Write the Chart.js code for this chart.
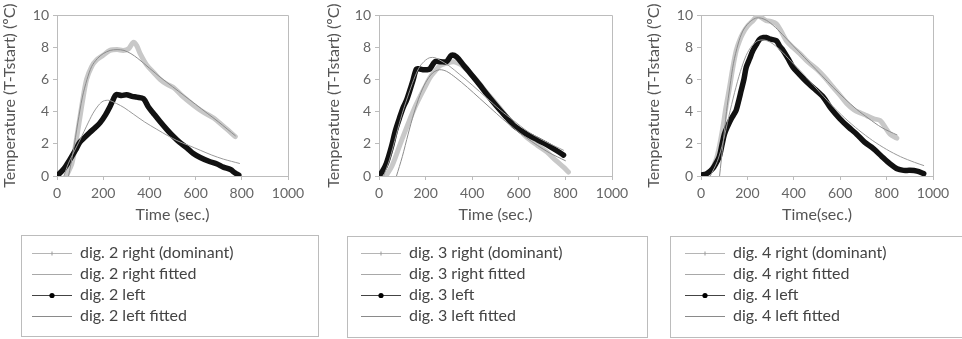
<!DOCTYPE html>
<html lang="en">
<head>
<meta charset="UTF-8">
<title>Finger temperature</title>
<script src="https://cdn.jsdelivr.net/npm/chart.js@4.4.1/dist/chart.umd.min.js"></script>
<style>
  body { margin: 0; background: #fff; }
  #wrap { position: relative; width: 962px; height: 339px; overflow: hidden; }
  canvas { position: absolute; top: 0; }
</style>
</head>
<body>
<div id="wrap">
  <canvas id="c2" width="320" height="339" style="left:0"></canvas>
  <canvas id="c3" width="330" height="339" style="left:320px"></canvas>
  <canvas id="c4" width="322" height="339" style="left:640px"></canvas>
</div>
<script>
// [time (s), T - Tstart (ºC)]
const dig2Right = [[40,0],[65,0.8],[91,2.9],[110,4.6],[128,6.0],[150,6.8],[171,7.2],[200,7.5],[229,7.8],[260,7.85],[287,7.8],[310,7.9],[330,8.3],[345,8.1],[360,7.6],[388,6.9],[420,6.4],[446,6.0],[475,5.7],[504,5.5],[540,5.0],[591,4.4],[630,4.0],[678,3.6],[720,3.1],[772,2.45]];
const dig2RightFit = [[50,0],[70,1.5],[90,3.3],[110,4.9],[130,6.0],[150,6.8],[175,7.3],[200,7.6],[230,7.8],[260,7.85],[290,7.8],[320,7.6],[350,7.3],[400,6.7],[450,6.1],[500,5.55],[550,5.0],[600,4.45],[650,3.9],[700,3.35],[772,2.5]];
const dig2Left = [[0,0],[30,0.45],[55,1.0],[80,1.6],[99,2.1],[120,2.4],[142,2.7],[165,3.0],[186,3.3],[210,3.8],[229,4.3],[245,4.8],[255,5.05],[280,5.0],[301,5.05],[325,4.95],[345,4.9],[374,4.8],[395,4.3],[417,3.9],[445,3.4],[475,2.9],[504,2.45],[530,2.1],[562,1.75],[590,1.4],[620,1.15],[660,0.9],[693,0.75],[720,0.55],[751,0.4],[770,0.2],[787,0.05]];
const dig2LeftFit = [[30,0],[50,0.8],[84,1.8],[105,2.4],[128,3.1],[156,3.9],[180,4.4],[200,4.65],[225,4.7],[258,4.5],[290,4.25],[330,3.85],[380,3.35],[432,2.9],[480,2.5],[519,2.2],[570,1.9],[620,1.6],[670,1.3],[720,1.05],[790,0.78]];

const dig3Right = [[30,0],[55,0.6],[89,1.9],[110,2.7],[132,3.5],[155,4.3],[175,4.9],[200,5.6],[218,6.1],[240,6.5],[261,6.85],[290,7.0],[319,7.1],[340,7.0],[362,6.8],[390,6.4],[419,5.95],[455,5.3],[491,4.7],[525,4.1],[562,3.45],[600,2.9],[634,2.4],[680,1.9],[720,1.5],[760,0.95],[792,0.55],[813,0.25]];
const dig3RightFit = [[75,0],[100,1.2],[125,2.6],[150,3.9],[175,5.0],[200,5.8],[230,6.4],[260,6.6],[290,6.5],[330,6.1],[380,5.5],[430,4.85],[480,4.2],[530,3.55],[580,2.95],[630,2.4],[680,1.9],[730,1.45],[800,0.95]];
const dig3Left = [[0,0],[15,0.3],[32,0.8],[53,1.8],[70,2.8],[89,3.65],[105,4.3],[118,4.7],[132,5.3],[146,5.95],[161,6.65],[175,6.65],[189,6.6],[205,6.6],[218,6.65],[240,7.1],[265,7.1],[290,7.1],[311,7.5],[333,7.4],[362,6.9],[385,6.5],[405,6.15],[430,5.7],[462,5.1],[490,4.6],[519,4.1],[550,3.6],[577,3.15],[605,2.85],[634,2.6],[680,2.25],[720,1.95],[760,1.6],[792,1.3]];
const dig3LeftFit = [[20,0],[45,1.0],[75,2.6],[100,3.9],[132,5.3],[155,6.2],[175,6.8],[200,7.2],[218,7.35],[240,7.35],[261,7.2],[300,6.85],[347,6.3],[400,5.65],[462,4.85],[520,4.1],[577,3.45],[640,2.75],[720,2.1],[792,1.6]];

const dig4Right = [[20,0],[45,0.4],[65,1.0],[80,1.9],[94,3.0],[108,4.3],[123,5.5],[138,6.8],[152,7.8],[166,8.4],[180,8.85],[200,9.3],[224,9.65],[245,9.95],[265,9.8],[281,9.65],[300,9.6],[325,9.45],[345,9.0],[368,8.4],[395,8.0],[426,7.6],[460,7.1],[498,6.65],[535,6.1],[570,5.5],[600,5.0],[628,4.5],[660,4.1],[690,3.9],[714,3.75],[745,3.55],[772,3.45],[795,3.0],[815,2.6],[844,2.35]];
const dig4RightFit = [[80,0],[95,2.0],[110,4.0],[125,5.6],[140,7.0],[160,8.2],[180,9.0],[205,9.5],[235,9.8],[260,9.8],[290,9.6],[330,9.1],[370,8.5],[420,7.75],[470,7.0],[520,6.25],[570,5.5],[620,4.8],[670,4.15],[720,3.6],[780,3.0],[845,2.55]];
const dig4Left = [[0,0.05],[25,0.15],[50,0.45],[65,0.8],[79,1.2],[90,1.9],[101,2.6],[115,3.1],[130,3.55],[145,3.9],[152,4.1],[163,4.7],[173,5.3],[185,6.0],[195,6.75],[210,7.3],[224,7.8],[240,8.2],[253,8.5],[270,8.6],[281,8.6],[300,8.5],[325,8.4],[340,8.05],[354,7.8],[375,7.3],[397,6.75],[425,6.3],[455,5.85],[490,5.4],[527,4.9],[560,4.2],[599,3.55],[635,3.05],[671,2.6],[705,2.1],[743,1.7],[780,1.2],[815,0.75],[845,0.45],[873,0.35],[900,0.35],[931,0.3],[960,0.15]];
const dig4LeftFit = [[40,0],[70,0.9],[95,2.1],[120,3.7],[145,5.2],[170,6.5],[195,7.5],[220,8.1],[245,8.4],[270,8.45],[300,8.3],[340,7.85],[390,7.1],[440,6.35],[500,5.4],[560,4.45],[620,3.6],[680,2.85],[740,2.2],[800,1.65],[860,1.2],[920,0.85],[960,0.65]];

const xTicks = [0, 200, 400, 600, 800, 1000];
const yTicks = [0, 2, 4, 6, 8, 10];
const yTitle = 'Temperature (T-Tstart) (ºC)';
const xTitles = ['Time (sec.)', 'Time (sec.)', 'Time(sec.)'];
const seriesNames = ['right (dominant)', 'right fitted', 'left', 'left fitted'];

const FONT = 'Lato, "Open Sans", sans-serif';
const AXIS_GREY = '#bcbcbc';

// legend sample images: a short line, with optional marker
function sample(color, marker) {
  const c = document.createElement('canvas');
  c.width = 40; c.height = 8;
  const g = c.getContext('2d');
  g.strokeStyle = color; g.lineWidth = 1;
  g.beginPath(); g.moveTo(0, 4.5); g.lineTo(40, 4.5); g.stroke();
  if (marker === 'dot') {
    g.fillStyle = '#000';
    g.beginPath(); g.arc(20, 4.5, 2.6, 0, Math.PI * 2); g.fill();
  } else if (marker === 'tick') {
    g.fillStyle = '#999';
    g.fillRect(19.5, 2.5, 1, 4);
  }
  return c;
}
const samples = [
  sample('#b5b5b5', 'tick'),
  sample('#a8a8a8'),
  sample('#444', 'dot'),
  sample('#8a8a8a')
];

const framePlugin = {
  id: 'frame',
  afterLayout(chart, args, opts) {
    const lg = chart.legend;
    const w = lg.right - lg.left;
    lg.left = opts.legendX;
    lg.right = opts.legendX + w;
  },
  beforeDatasetsDraw(chart) {
    const {ctx, chartArea: a} = chart;
    ctx.save();
    ctx.strokeStyle = AXIS_GREY;
    ctx.lineWidth = 1;
    ctx.beginPath();
    ctx.moveTo(Math.round(a.left) + 0.5, Math.round(a.top) + 0.5);
    ctx.lineTo(Math.round(a.right) + 0.5, Math.round(a.top) + 0.5);
    ctx.lineTo(Math.round(a.right) + 0.5, Math.round(a.bottom) + 0.5);
    ctx.stroke();
    ctx.restore();
  },
  afterDraw(chart, args, opts) {
    const ctx = chart.ctx;
    const b = opts.box;
    ctx.save();
    ctx.strokeStyle = AXIS_GREY;
    ctx.lineWidth = 1;
    ctx.strokeRect(b[0] + 0.5, b[1] + 0.5, b[2], b[3]);
    ctx.restore();
  }
};

function toXY(arr) {
  return arr.map(p => ({x: p[0], y: p[1]}));
}

function makePanel(id, dig, series, xTitle, lay) {
  const styles = [
    {borderColor: '#c8c8c8', borderWidth: 5, order: 3},
    {borderColor: '#8c8c8c', borderWidth: 1, order: 1},
    {borderColor: '#111111', borderWidth: 5.5, order: 2},
    {borderColor: '#9a9a9a', borderWidth: 1, order: 0}
  ];
  const datasets = series.map((s, i) => Object.assign({
    label: 'dig. ' + dig + ' ' + seriesNames[i],
    data: toXY(s),
    pointRadius: 0,
    tension: 0.3,
    borderJoinStyle: 'round',
    borderCapStyle: 'round',
    fill: false
  }, styles[i]));

  return new Chart(document.getElementById(id), {
    type: 'line',
    data: {datasets},
    plugins: [framePlugin],
    options: {
      responsive: false,
      animation: false,
      layout: {padding: {left: lay.padLeft, right: lay.padRight, top: 15, bottom: 5}},
      scales: {
        x: {
          type: 'linear',
          min: xTicks[0], max: xTicks[xTicks.length - 1],
          afterBuildTicks: s => { s.ticks = xTicks.map(v => ({value: v})); },
          afterFit: s => { s.height = 64; },
          grid: {drawOnChartArea: false, drawTicks: true, tickLength: 4, color: AXIS_GREY},
          border: {color: AXIS_GREY},
          ticks: {padding: 5, maxRotation: 0, color: '#666', font: {family: FONT, size: 14}, callback: v => String(v)},
          title: {display: true, text: xTitle, color: '#555', font: {family: FONT, size: 16}, padding: {top: 0, bottom: 16}}
        },
        y: {
          min: yTicks[0], max: yTicks[yTicks.length - 1],
          afterBuildTicks: s => { s.ticks = yTicks.map(v => ({value: v})); },
          afterFit: s => { s.width = lay.yWidth; },
          grid: {drawOnChartArea: false, drawTicks: true, tickLength: 4, color: AXIS_GREY},
          border: {color: AXIS_GREY},
          ticks: {padding: 4, color: '#666', font: {family: FONT, size: 14}, callback: v => String(v)},
          title: {display: true, text: yTitle, color: '#555', font: {family: FONT, size: 16}, padding: 0}
        }
      },
      plugins: {
        frame: {legendX: lay.legendX, box: lay.box},
        tooltip: {enabled: false},
        legend: {
          position: 'bottom',
          align: 'start',
          fullSize: false,
          labels: {
            usePointStyle: true,
            pointStyleWidth: 40,
            padding: 5,
            color: '#444',
            font: {family: FONT, size: 16},
            generateLabels: chart => chart.data.datasets.map((d, i) => ({
              text: d.label,
              pointStyle: samples[i],
              fontColor: '#444',
              lineWidth: 0,
              datasetIndex: i
            }))
          }
        }
      }
    }
  });
}

makePanel('c2', 2, [dig2Right, dig2RightFit, dig2Left, dig2LeftFit], xTitles[0],
  {padLeft: 0, padRight: 32, yWidth: 57, legendX: 27, box: [21, 235, 297, 101]});
makePanel('c3', 3, [dig3Right, dig3RightFit, dig3Left, dig3LeftFit], xTitles[1],
  {padLeft: 4, padRight: 38, yWidth: 55, legendX: 36, box: [27, 236, 300, 101]});
makePanel('c4', 4, [dig4Right, dig4RightFit, dig4Left, dig4LeftFit], xTitles[2],
  {padLeft: 4, padRight: 29, yWidth: 57, legendX: 40, box: [30, 236, 300, 101]});
</script>
</body>
</html>
